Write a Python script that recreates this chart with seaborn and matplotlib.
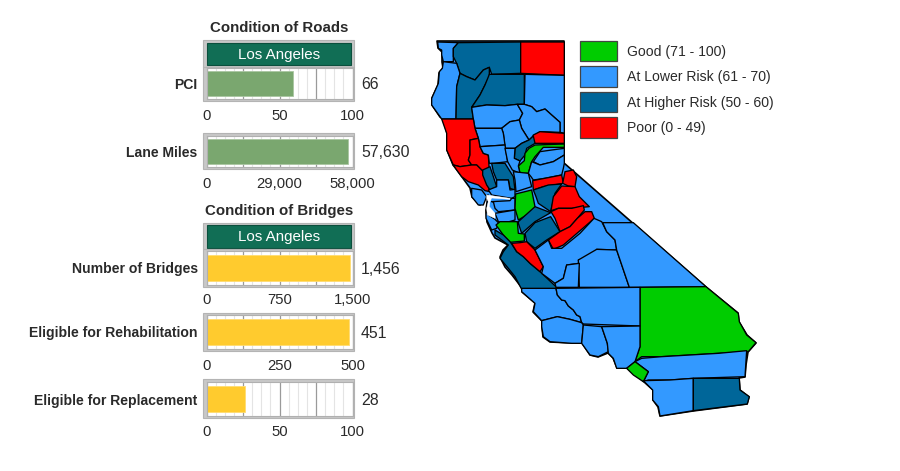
import matplotlib
matplotlib.use('Agg')
import matplotlib.pyplot as plt
from matplotlib.patches import Patch, Polygon, Rectangle
import seaborn as sns

# bar lengths are what the picture shows, the printed labels differ a bit
road_labels = ['PCI', 'Lane Miles']
road_bars = [59.5, 56400]
road_values = ['66', '57,630']
road_max = [100, 58000]
road_ticks = [['0', '50', '100'], ['0', '29,000', '58,000']]

bridge_labels = ['Number of Bridges', 'Eligible for Rehabilitation', 'Eligible for Replacement']
bridge_bars = [1470, 487, 26]
bridge_values = ['1,456', '451', '28']
bridge_max = [1500, 500, 100]
bridge_ticks = [['0', '750', '1,500'], ['0', '250', '500'], ['0', '50', '100']]

legend_labels = ['Good (71 - 100)', 'At Lower Risk (61 - 70)', 'At Higher Risk (50 - 60)', 'Poor (0 - 49)']
risk_colors = {'good': '#00cc00', 'lower': '#3399ff', 'higher': '#006699', 'poor': '#ff0000'}
legend_keys = ['good', 'lower', 'higher', 'poor']

# whole state, pixel outline, filled first so small slivers stay lower risk
state_outline = [
    (437,41),(564,41),(564,163),(706,287),(738,313),(739,322),(744,330),(747,335),(756,343),(748,352),
    (746,365),(745,377),(739,378),(740,390),(749,397),(747,404),(693,411),(660,416),(658,407),(653,400),
    (653,390),(643,381),(627,368),(617,368),(613,358),(608,353),(598,357),(590,355),(582,343),(572,343),
    (550,342),(543,337),(542,327),(542,321),(533,312),(535,303),(522,292),(522,288),(512,275),(505,267),
    (500,257),(503,250),(508,245),(495,238),(492,233),(487,222),(486,210),(488,195),(480,205),(472,197),
    (470,188),(462,177),(457,170),(453,165),(447,150),(447,133),(443,119),(440,117),(432,105),(432,98),
    (438,85),(439,73),(443,68),(442,62),(442,52),(438,48),
]

# county outlines, north part traced at 3x from (425, 30)
north_counties = [
    ('lower', [(38,36),(100,38),(85,55),(85,95),(55,95),(50,75),(50,60),(40,55)]),
    ('higher', [(100,38),(287,36),(287,130),(200,133),(193,112),(175,120),(150,150),(125,140),(105,130),(95,100),(85,80),(85,55)]),
    ('poor', [(287,36),(418,36),(418,136),(287,130)]),
    ('lower', [(55,95),(95,100),(105,130),(95,170),(93,267),(50,267),(20,225),(20,205),(40,160),(43,125),(52,115)]),
    ('higher', [(105,130),(125,140),(150,150),(175,120),(193,112),(193,140),(180,165),(165,195),(140,232),(145,267),(93,267),(95,170)]),
    ('higher', [(193,133),(298,133),(298,223),(277,223),(240,227),(185,225),(140,232),(165,195),(180,165)]),
    ('lower', [(300,133),(418,136),(418,310),(405,307),(405,277),(380,255),(360,237),(335,245),(320,230),(298,223)]),
    ('lower', [(140,232),(185,225),(240,227),(277,223),(293,250),(283,270),(255,275),(230,295),(150,295),(145,267)]),
    ('lower', [(277,223),(298,223),(320,230),(335,245),(360,237),(380,255),(405,277),(405,307),(345,305),(325,318),(312,330),(290,295),(283,270),(293,250)]),
    ('lower', [(230,295),(255,275),(283,270),(290,295),(312,330),(290,340),(270,355),(240,355),(235,310)]),
    ('lower', [(150,295),(230,295),(235,310),(240,345),(165,350),(160,325)]),
    ('poor', [(50,267),(93,267),(145,267),(150,295),(160,325),(135,330),(135,375),(130,390),(140,405),(105,410),(85,405),(65,360),(65,310)]),
    ('poor', [(135,330),(160,325),(165,350),(175,370),(190,375),(193,425),(175,425),(155,405),(140,405),(130,390),(135,375)]),
    ('lower', [(165,350),(240,345),(248,395),(205,400),(193,400),(190,375),(175,370)]),
    ('poor', [(345,305),(418,310),(418,340),(330,340),(320,330),(325,315)]),
    ('higher', [(312,330),(325,318),(330,340),(305,355),(300,375),(285,393),(268,385),(270,355),(290,340)]),
    ('good', [(330,345),(418,342),(418,352),(355,352),(330,380),(320,395),(310,430),(285,430),(280,408),(298,392),(300,370),(312,355)]),
    ('lower', [(240,355),(270,355),(268,385),(285,393),(280,408),(285,430),(262,420),(248,395)]),
    ('lower', [(325,395),(345,365),(380,360),(418,355),(418,375),(385,395),(345,405)]),
    ('lower', [(310,430),(320,395),(345,405),(385,395),(418,375),(418,400),(415,415),(410,435),(360,445),(325,450),(318,440)]),
    ('poor', [(85,405),(105,410),(140,405),(155,405),(175,425),(195,485),(180,482),(160,465),(130,455),(110,440),(95,420)]),
]

# bay area traced at 3x from (470, 130)
bay_counties = [
    ('higher', [(38,120),(60,110),(80,170),(60,180),(50,165),(38,135)]),
    ('higher', [(65,100),(105,100),(130,140),(135,180),(120,175),(115,150),(80,150),(70,125)]),
    ('lower', [(80,150),(115,150),(120,180),(135,178),(135,200),(125,205),(65,195),(55,180),(80,170)]),
    ('lower', [(130,125),(175,130),(185,170),(138,185),(135,150)]),
    ('lower', [(5,175),(35,180),(50,200),(40,225),(25,225),(5,200)]),
    ('lower', [(65,215),(120,212),(125,205),(135,205),(135,240),(85,245),(75,235),(70,215)]),
    ('lower', [(75,250),(135,240),(135,270),(100,280),(85,275)]),
    ('lower', [(48,240),(55,255),(75,268),(85,278),(80,295),(65,300),(48,265)]),
]

# central valley traced at 3x from (490, 170)
central_counties = [
    ('poor', [(128,32),(215,15),(220,40),(160,50),(130,60)]),
    ('poor', [(225,5),(250,0),(260,20),(255,50),(235,48),(218,40)]),
    ('higher', [(130,60),(175,45),(215,42),(195,70),(182,125),(145,100),(138,80)]),
    ('good', [(77,72),(125,60),(135,110),(135,120),(85,150),(75,115)]),
    ('higher', [(85,155),(135,110),(182,128),(135,155),(95,190),(85,160)]),
    ('higher', [(105,190),(135,158),(182,140),(210,185),(170,210),(135,235),(110,215)]),
    ('poor', [(183,122),(190,80),(215,48),(255,50),(268,80),(298,110),(245,115),(205,115)]),
    ('poor', [(183,125),(205,115),(245,115),(280,107),(283,120),(262,145),(240,170),(210,185),(195,145)]),
    ('poor', [(175,210),(210,185),(240,170),(262,145),(285,125),(305,125),(313,145),(290,165),(255,195),(220,225),(190,238)]),
    ('good', [(18,165),(30,155),(82,155),(85,190),(103,192),(103,213),(60,217),(40,195)]),
    ('higher', [(15,180),(40,195),(60,215),(65,222),(80,245),(100,260),(120,280),(150,305),(200,352),(200,358),(95,358),(75,320),(55,295),(30,265),(40,245),(55,225),(35,210),(15,195)]),
    ('poor', [(65,220),(90,218),(110,215),(135,240),(160,290),(150,305),(120,280),(100,260),(80,245)]),
]

# south part traced at 3x from (470, 180)
south_counties = [
    ('lower', [(372,115),(395,125),(410,155),(435,180),(440,210),(380,208),(375,225),(325,240),(328,250),(290,255),(280,295),(255,310),(215,280),(220,260),(195,210),(235,180),(245,205),(275,205),(330,160)]),
    ('lower', [(325,240),(380,208),(440,210),(478,322),(328,322)]),
    ('lower', [(290,255),(328,250),(325,322),(258,322),(255,310),(280,295)]),
    ('lower', [(398,128),(490,128),(708,320),(510,322),(478,322),(440,210),(435,180),(410,155)]),
    ('good', [(510,322),(708,320),(805,400),(808,425),(830,465),(858,488),(835,515),(745,520),(575,530),(515,530),(495,545),(510,500)]),
    ('lower', [(155,325),(258,325),(262,345),(275,360),(285,362),(295,378),(310,390),(320,405),(330,410),(335,428),(300,418),(262,410),(215,422),(190,395),(195,370),(155,335)]),
    ('lower', [(258,325),(510,322),(510,438),(340,432),(335,428),(330,410),(320,405),(310,390),(295,378),(285,362),(275,360),(262,345)]),
    ('lower', [(215,422),(262,410),(300,418),(335,428),(340,435),(335,490),(305,490),(240,485),(220,470),(215,440)]),
    ('lower', [(340,435),(395,440),(412,490),(415,515),(385,530),(360,525),(335,490)]),
    ('lower', [(395,440),(510,438),(510,500),(495,545),(470,565),(440,565),(430,535),(415,520),(412,490)]),
    ('lower', [(515,535),(575,530),(745,520),(830,512),(825,590),(670,595),(600,600),(535,600),(520,605),(535,575),(495,545)]),
    ('good', [(495,545),(535,575),(520,605),(490,585),(470,565)]),
    ('lower', [(520,602),(600,600),(670,595),(670,692),(570,708),(565,680),(548,660),(548,630)]),
    ('higher', [(670,595),(808,595),(810,630),(838,650),(832,672),(670,692)]),
]

# white water of the bay, same 3x trace as bay_counties
bay_water = [(50,195),(65,197),(120,205),(120,208),(65,204),(60,215),(58,230),(75,250),(75,265),(52,255),(50,235),(55,215),(50,205)]

W, H = 900, 471
TEXT = '#2a2a2a'


def pxAxes(fig, x0, y0, x1, y1):
  return fig.add_axes([x0 / W, 1 - y1 / H, (x1 - x0) / W, (y1 - y0) / H])


def pxFrame(mapAx, x0, y0, x1, y1):
  mapAx.add_patch(Rectangle((x0, y0), x1 - x0, y1 - y0, facecolor='#c8c8c8', edgecolor='#b4b4b4', lw=0.8))


def header(mapAx, y0, y1, y2, y3):
  pxFrame(mapAx, 203, y0, 354, y3)
  mapAx.add_patch(Rectangle((207, y1), 144, y2 - y1, facecolor='#116e55', edgecolor='#0b4f3d', lw=0.8))
  mapAx.text(279, (y1 + y2) / 2 + 0.5, 'Los Angeles', color='white', fontsize=10.9, ha='center', va='center')


def panel(fig, mapAx, box, label, barValue, valueText, maxValue, ticks, color, edge):
  x0, y0, y1, outer0, outer1, labelY = box
  pxFrame(mapAx, 203, outer0, 354, outer1)
  ax = pxAxes(fig, x0, y0, 352.5, y1)
  sns.barplot(x=[barValue], y=[label], color=color, saturation=1, width=0.78,
              edgecolor=edge, linewidth=0.6, ax=ax)
  ax.set_xlim(0, maxValue)
  ax.set_ylim(0.5, -0.5)
  ax.set_xlabel('')
  ax.set_ylabel('')
  ax.set_axisbelow(True)
  ax.set_xticks([maxValue * i / 16 for i in range(17)], minor=True)
  ax.set_xticks([maxValue * i / 4 for i in range(5)])
  ax.set_xticklabels([ticks[0], '', ticks[1], '', ticks[2]])
  ax.grid(which='minor', axis='x', color='#e4e4e4', lw=0.8)
  ax.grid(which='major', axis='x', color='#9a9a9a', lw=0.9)
  ax.tick_params(axis='both', which='both', length=0)
  pad = (labelY - 5.5 - outer1) * 0.72 + (outer1 - y1) * 0.72
  ax.tick_params(axis='x', labelsize=10.7, labelcolor=TEXT, pad=pad)
  ax.tick_params(axis='y', labelsize=10.1, labelcolor=TEXT, pad=6.5)
  for t in ax.get_yticklabels():
    t.set_fontweight('bold')
  for s in ax.spines.values():
    s.set_visible(True)
    s.set_color('#b0b0b0')
    s.set_linewidth(0.8)
  ax.text(1.058, 0.47, valueText, transform=ax.transAxes, fontsize=11.4, color=TEXT, va='center', ha='left')
  return ax


def plotMap(mapAx):
  mapAx.add_patch(Polygon(state_outline, closed=True, facecolor=risk_colors['lower'], edgecolor='black',
                          lw=1.2, joinstyle='round'))
  groups = [(north_counties, 425, 30), (bay_counties, 470, 130), (central_counties, 490, 170), (south_counties, 470, 180)]
  for counties, ox, oy in groups:
    for risk, points in counties:
      pts = [(ox + x / 3, oy + y / 3) for x, y in points]
      mapAx.add_patch(Polygon(pts, closed=True, facecolor=risk_colors[risk], edgecolor='black',
                              lw=0.95, joinstyle='round'))
  water = [(470 + x / 3, 130 + y / 3) for x, y in bay_water]
  mapAx.add_patch(Polygon(water, closed=True, facecolor='white', edgecolor='white', lw=0.3))
  handles = [Patch(facecolor=risk_colors[k], edgecolor='#444444', lw=0.9) for k in legend_keys]
  leg = mapAx.legend(handles, legend_labels, loc='upper left', bbox_to_anchor=(580, 41),
                     bbox_transform=mapAx.transData, frameon=False, fontsize=10.1, borderpad=0,
                     borderaxespad=0, handlelength=2.65, handleheight=1.85, handletextpad=0.7,
                     labelspacing=0.37)
  for t in leg.get_texts():
    t.set_color(TEXT)


sns.set_theme(style='white')
plt.rcParams['font.family'] = ['Liberation Sans', 'DejaVu Sans']

fig = plt.figure(figsize=(W / 100, H / 100), dpi=100)
mapAx = fig.add_axes([0, 0, 1, 1])
mapAx.set_xlim(0, W)
mapAx.set_ylim(H, 0)
mapAx.axis('off')

plotMap(mapAx)

mapAx.text(279, 28, 'Condition of Roads', fontsize=10.8, fontweight='bold', color=TEXT, ha='center', va='center')
mapAx.text(279, 211, 'Condition of Bridges', fontsize=10.8, fontweight='bold', color=TEXT, ha='center', va='center')
header(mapAx, 40, 43, 65, 67)
header(mapAx, 223, 225, 248, 249)

road_boxes = [(206.5, 68, 99, 67, 101, 115), (206.5, 136, 167, 133, 169, 183)]
bridge_boxes = [(206.7, 251, 285, 249, 287, 299), (206.7, 315, 349, 313, 351, 364), (206.7, 382, 416, 379, 418, 430)]

for i in range(len(road_labels)):
  panel(fig, mapAx, road_boxes[i], road_labels[i], road_bars[i], road_values[i], road_max[i],
        road_ticks[i], '#7aa76f', '#a9c6a1')
for i in range(len(bridge_labels)):
  panel(fig, mapAx, bridge_boxes[i], bridge_labels[i], bridge_bars[i], bridge_values[i], bridge_max[i],
        bridge_ticks[i], '#ffcb2e', '#ffdc70')

fig.savefig('out.png', dpi=100)
